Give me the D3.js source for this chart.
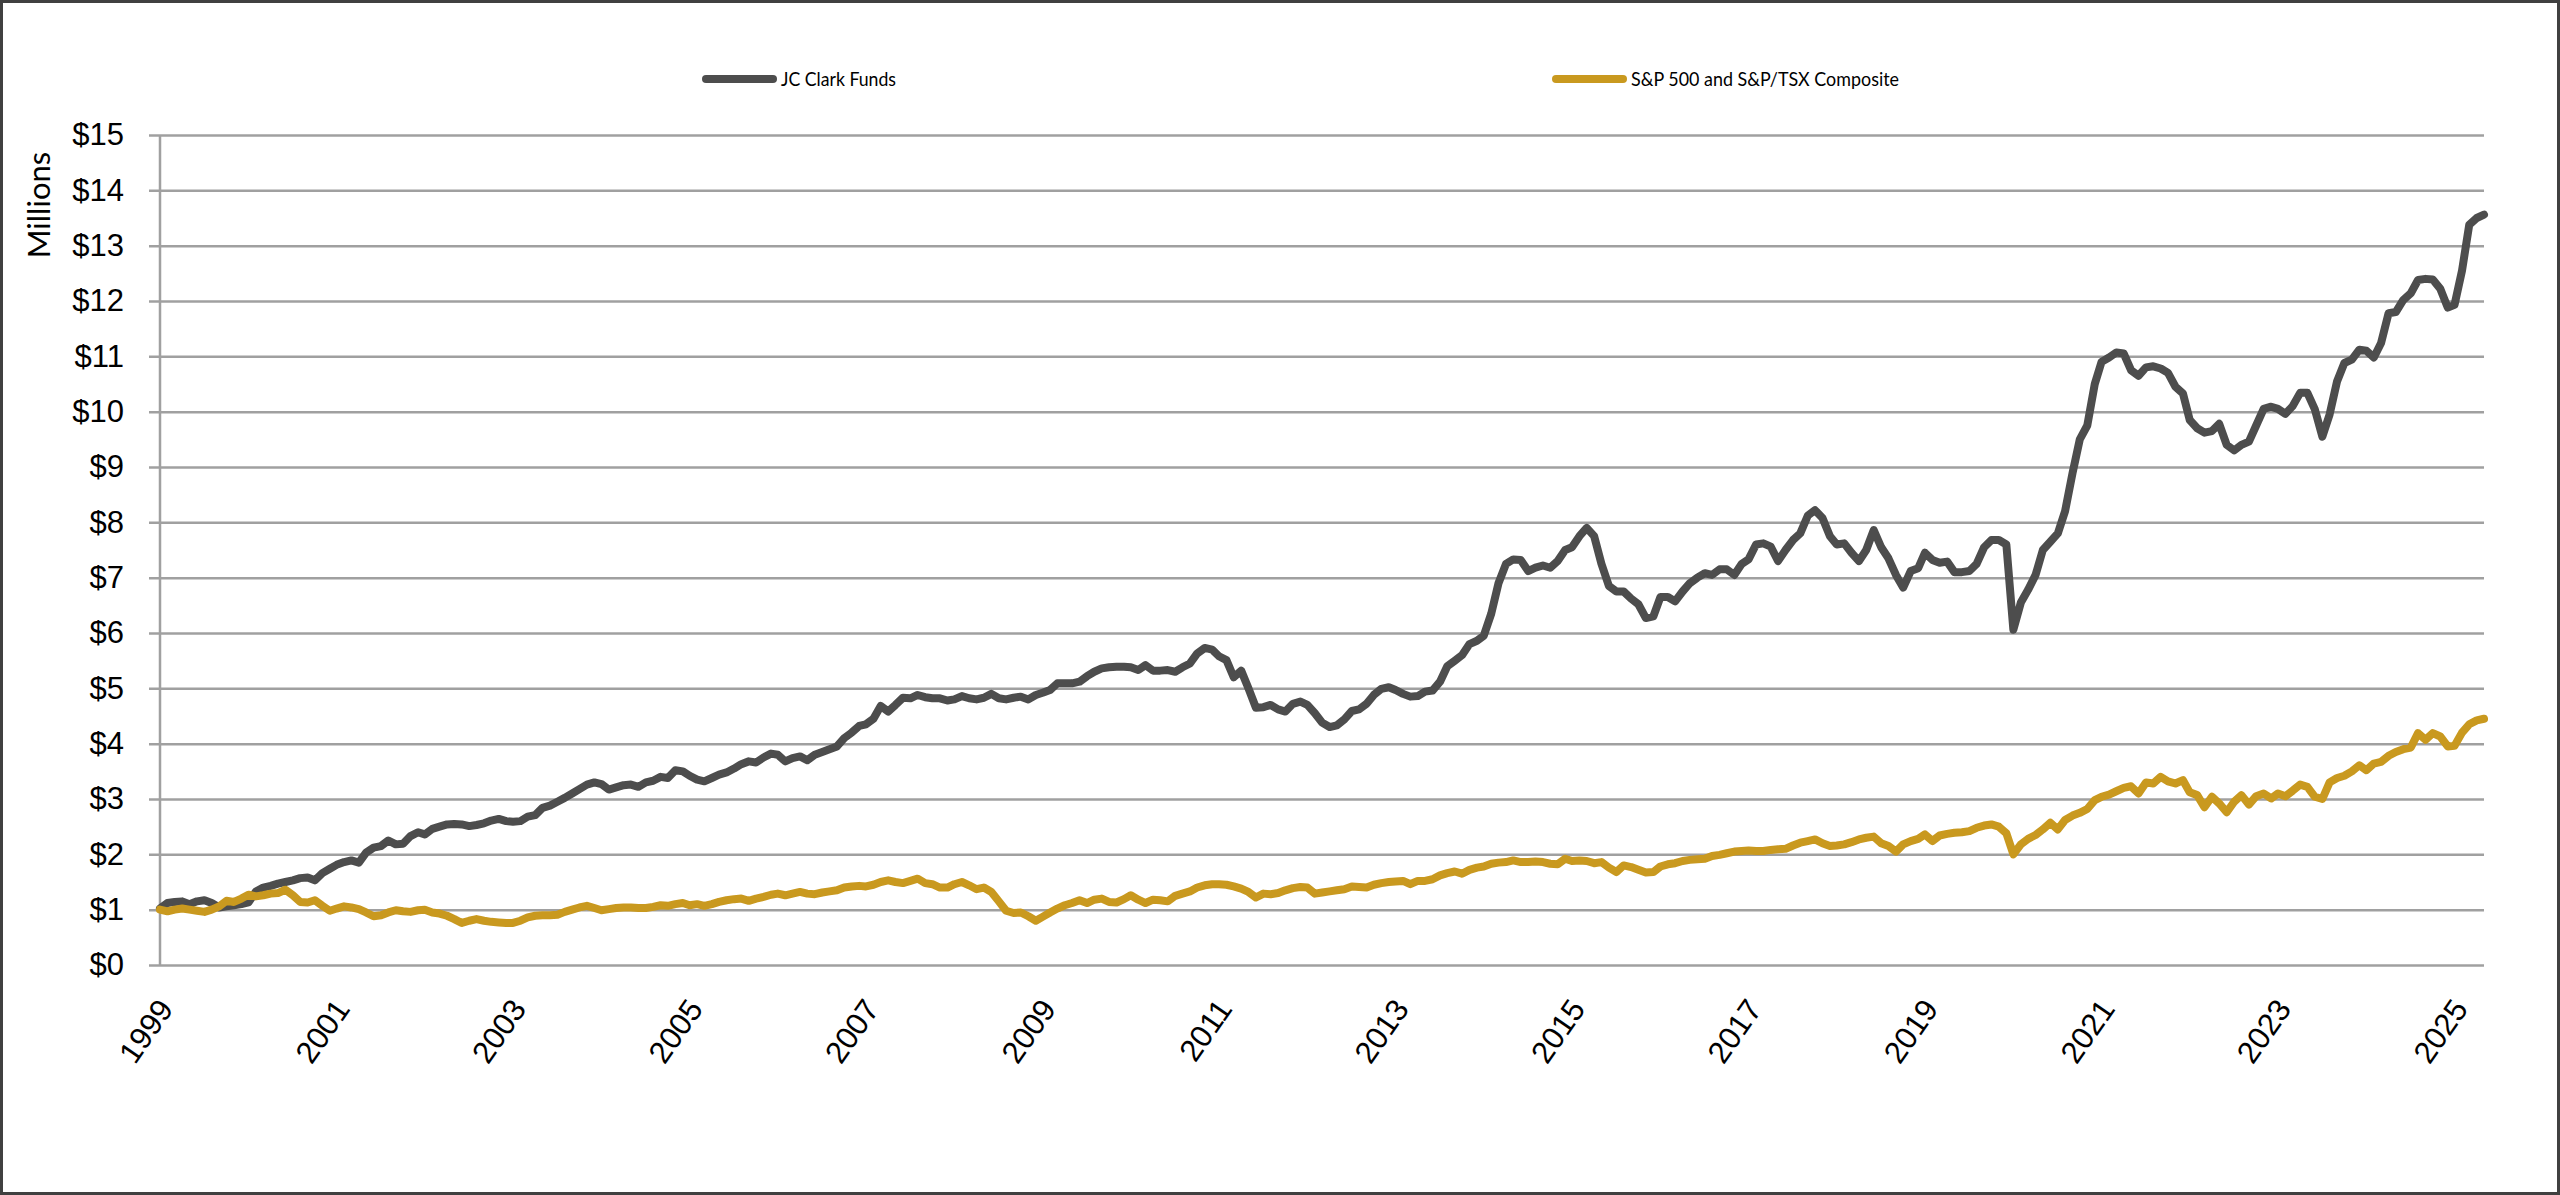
<!DOCTYPE html>
<html>
<head>
<meta charset="utf-8">
<script src="https://cdn.jsdelivr.net/npm/d3@7"></script>
<style>
  html, body { margin: 0; padding: 0; background: #fff; }
  svg { display: block; font-family: Lato, "Open Sans", sans-serif; }
  .grid line { stroke: #a0a0a0; stroke-width: 2.5; }
  .grid text, .x-axis text { fill: #000; font-size: 31px; }
  .line { fill: none; stroke-width: 8; stroke-linejoin: round; stroke-linecap: round; }
</style>
</head>
<body>
<div id="chart"></div>
<script>
// monthly values, first point March 1999
var startMonth = new Date(1999, 2, 1);

var jcClark = [
  1.02, 1.12, 1.14, 1.15, 1.10, 1.15, 1.17, 1.12, 1.04, 1.06, 1.08, 1.10,
  1.13, 1.33, 1.40, 1.43, 1.47, 1.50, 1.53, 1.57, 1.58, 1.53, 1.66, 1.74,
  1.81, 1.86, 1.89, 1.85, 2.03, 2.12, 2.15, 2.25, 2.18, 2.19, 2.33, 2.40,
  2.36, 2.46, 2.50, 2.54, 2.55, 2.54, 2.51, 2.53, 2.56, 2.61, 2.64, 2.60,
  2.59, 2.60, 2.68, 2.71, 2.84, 2.88, 2.95, 3.02, 3.10, 3.18, 3.26, 3.30,
  3.27, 3.17, 3.21, 3.25, 3.26, 3.22, 3.30, 3.33, 3.40, 3.38, 3.52, 3.50,
  3.42, 3.35, 3.32, 3.38, 3.44, 3.48, 3.55, 3.63, 3.68, 3.66, 3.75, 3.82,
  3.80, 3.68, 3.74, 3.77, 3.70, 3.80, 3.85, 3.90, 3.95, 4.10, 4.20, 4.32,
  4.35, 4.45, 4.68, 4.58, 4.70, 4.83, 4.82, 4.88, 4.84, 4.82, 4.82, 4.78,
  4.80, 4.86, 4.82, 4.80, 4.83, 4.90, 4.82, 4.80, 4.83, 4.85, 4.80, 4.88,
  4.92, 4.97, 5.09, 5.09, 5.09, 5.12, 5.22, 5.30, 5.36, 5.38, 5.39, 5.39,
  5.38, 5.33, 5.42, 5.32, 5.32, 5.33, 5.30, 5.38, 5.45, 5.63, 5.73, 5.70,
  5.58, 5.51, 5.20, 5.32, 5.00, 4.65, 4.66, 4.70, 4.62, 4.58, 4.72, 4.76,
  4.70, 4.55, 4.38, 4.30, 4.33, 4.44, 4.59, 4.62, 4.72, 4.88, 4.99, 5.02,
  4.97, 4.90, 4.85, 4.86, 4.94, 4.96, 5.12, 5.40, 5.50, 5.60, 5.80, 5.86,
  5.95, 6.35, 6.90, 7.25, 7.33, 7.32, 7.12, 7.18, 7.22, 7.18, 7.30, 7.50,
  7.55, 7.75, 7.90, 7.75, 7.25, 6.85, 6.75, 6.75, 6.62, 6.52, 6.27, 6.30,
  6.65, 6.65, 6.57, 6.75, 6.90, 7.00, 7.08, 7.05, 7.15, 7.15, 7.05, 7.25,
  7.33, 7.60, 7.62, 7.56, 7.30, 7.50, 7.68, 7.80, 8.12, 8.22, 8.08, 7.75,
  7.60, 7.62, 7.45, 7.30, 7.50, 7.86, 7.55, 7.35, 7.05, 6.82, 7.12, 7.17,
  7.45, 7.32, 7.27, 7.29, 7.10, 7.10, 7.12, 7.25, 7.55, 7.68, 7.68, 7.60,
  6.06, 6.55, 6.78, 7.05, 7.50, 7.65, 7.80, 8.20, 8.89, 9.50, 9.75, 10.50,
  10.90, 10.98, 11.07, 11.05, 10.75, 10.65, 10.80, 10.82, 10.78, 10.70, 10.45, 10.33,
  9.85, 9.70, 9.62, 9.65, 9.78, 9.40, 9.30, 9.40, 9.46, 9.75, 10.05, 10.09,
  10.05, 9.96, 10.10, 10.34, 10.34, 10.04, 9.55, 9.95, 10.55, 10.88, 10.94, 11.12,
  11.10, 10.98, 11.24, 11.78, 11.80, 12.02, 12.14, 12.38, 12.40, 12.39, 12.22, 11.88,
  11.93, 12.55, 13.38, 13.50, 13.56
];

var spTsx = [
  1.00, 0.97, 1.00, 1.02, 1.00, 0.98, 0.96, 1.00, 1.06, 1.16, 1.14, 1.20,
  1.27, 1.24, 1.26, 1.29, 1.30, 1.36, 1.26, 1.14, 1.13, 1.17, 1.07, 0.98,
  1.02, 1.06, 1.04, 1.01, 0.95, 0.88, 0.90, 0.95, 0.99, 0.97, 0.96, 0.99,
  1.00, 0.95, 0.93, 0.89, 0.83, 0.76, 0.80, 0.83, 0.80, 0.78, 0.77, 0.76,
  0.76, 0.80, 0.86, 0.89, 0.90, 0.90, 0.91, 0.96, 1.00, 1.04, 1.07, 1.03,
  0.99, 1.01, 1.03, 1.04, 1.04, 1.03, 1.03, 1.05, 1.08, 1.07, 1.10, 1.12,
  1.08, 1.10, 1.07, 1.10, 1.14, 1.17, 1.19, 1.20, 1.16, 1.20, 1.23, 1.27,
  1.29, 1.26, 1.29, 1.32, 1.29, 1.28, 1.31, 1.33, 1.35, 1.40, 1.42, 1.43,
  1.42, 1.45, 1.50, 1.53, 1.50, 1.48, 1.52, 1.56, 1.48, 1.46, 1.40, 1.40,
  1.46, 1.50, 1.44, 1.37, 1.40, 1.32, 1.15, 0.98, 0.94, 0.95, 0.88, 0.80,
  0.87, 0.95, 1.02, 1.08, 1.12, 1.17, 1.12, 1.18, 1.20, 1.14, 1.13, 1.19,
  1.26, 1.18, 1.12, 1.18, 1.17, 1.15, 1.25, 1.29, 1.33, 1.40, 1.44, 1.46,
  1.46, 1.45, 1.42, 1.38, 1.32, 1.22, 1.29, 1.28, 1.30, 1.35, 1.39, 1.41,
  1.40, 1.29, 1.31, 1.33, 1.35, 1.37, 1.42, 1.41, 1.40, 1.45, 1.48, 1.50,
  1.51, 1.52, 1.46, 1.52, 1.52, 1.55, 1.62, 1.66, 1.69, 1.65, 1.72, 1.76,
  1.78, 1.83, 1.85, 1.86, 1.89, 1.86, 1.86, 1.87, 1.86, 1.83, 1.82, 1.92,
  1.88, 1.89, 1.88, 1.84, 1.86, 1.76, 1.68, 1.80, 1.77, 1.72, 1.67, 1.68,
  1.78, 1.82, 1.84, 1.88, 1.90, 1.91, 1.92, 1.97, 1.99, 2.02, 2.05, 2.06,
  2.07, 2.06, 2.06, 2.08, 2.09, 2.10, 2.16, 2.21, 2.24, 2.27, 2.20, 2.15,
  2.16, 2.18, 2.22, 2.27, 2.30, 2.32, 2.20, 2.15, 2.05, 2.18, 2.24, 2.28,
  2.36, 2.24, 2.34, 2.37, 2.39, 2.40, 2.42, 2.48, 2.52, 2.54, 2.50, 2.38,
  2.00, 2.18, 2.28, 2.35, 2.45, 2.57, 2.45, 2.62, 2.70, 2.75, 2.82, 2.98,
  3.04, 3.08, 3.14, 3.20, 3.23, 3.10, 3.30, 3.28, 3.40, 3.32, 3.28, 3.34,
  3.12, 3.07, 2.85, 3.04, 2.92, 2.76, 2.95, 3.07, 2.90, 3.05, 3.10, 3.01,
  3.10, 3.05, 3.15, 3.26, 3.22, 3.04, 3.00, 3.30, 3.38, 3.42, 3.50, 3.61,
  3.52, 3.64, 3.67, 3.78, 3.85, 3.90, 3.93, 4.19, 4.07, 4.19, 4.13, 3.95,
  3.96, 4.20, 4.35, 4.42, 4.45
];

var seriesNames = ["JC Clark Funds", "S&P 500 and S&P/TSX Composite"];
var seriesColors = ["#4d4d4d", "#c9991f"];
var yTicks = [0, 1, 2, 3, 4, 5, 6, 7, 8, 9, 10, 11, 12, 13, 14, 15];
var labelEvery = 24; // one year label every 24 months

var W = 2560, H = 1195;
var plot = { left: 160, right: 2484, top: 135, bottom: 965 };

var dates = jcClark.map(function (d, i) { return d3.timeMonth.offset(startMonth, i); });

var svg = d3.select("#chart").append("svg")
    .attr("width", W)
    .attr("height", H);

svg.append("rect")
    .attr("x", 1.5).attr("y", 1.5)
    .attr("width", W - 3).attr("height", H - 3)
    .attr("fill", "#fff")
    .attr("stroke", "#404040")
    .attr("stroke-width", 3);

var xScale = d3.scaleTime()
    .domain([dates[0], dates[dates.length - 1]])
    .range([plot.left, plot.right]);

var yScale = d3.scaleLinear()
    .domain([0, 15])
    .range([plot.bottom, plot.top]);

// gridlines + y labels
var tickLen = 11;
svg.append("g")
    .attr("class", "grid")
    .attr("transform", "translate(" + (plot.left - tickLen) + ",0)")
    .call(d3.axisLeft(yScale)
        .tickValues(yTicks)
        .tickFormat(function (d) { return "$" + d; })
        .tickSize(-(plot.right - plot.left + tickLen))
        .tickPadding(25))
    .call(function (g) { g.select(".domain").remove(); });

svg.append("line")
    .attr("x1", plot.left).attr("x2", plot.left)
    .attr("y1", plot.top).attr("y2", plot.bottom)
    .attr("stroke", "#a0a0a0")
    .attr("stroke-width", 2.5);

// x axis labels
var xTicks = dates.filter(function (d, i) { return i % labelEvery === 0; });
var xAxis = svg.append("g")
    .attr("class", "x-axis")
    .attr("transform", "translate(0," + plot.bottom + ")")
    .call(d3.axisBottom(xScale)
        .tickValues(xTicks)
        .tickFormat(d3.timeFormat("%Y"))
        .tickSize(0));
xAxis.select(".domain").remove();
xAxis.selectAll("text")
    .attr("text-anchor", "end")
    .attr("dy", null)
    .attr("y", 0)
    .attr("transform", "translate(14,44) rotate(-55)");

svg.append("text")
    .attr("transform", "translate(50,205) rotate(-90)")
    .attr("text-anchor", "middle")
    .style("font-size", "31px")
    .text("Millions");

// lines
var line = d3.line()
    .x(function (d, i) { return xScale(dates[i]); })
    .y(function (d) { return yScale(d); });

[jcClark, spTsx].forEach(function (s, k) {
    svg.append("path")
        .datum(s)
        .attr("class", "line")
        .attr("stroke", seriesColors[k])
        .attr("d", line);
});

// legend
var legendItems = [
    { x: 703, textLen: 115 },
    { x: 1553, textLen: 268 }
];
var legend = svg.append("g").attr("class", "legend");
legendItems.forEach(function (l, k) {
    legend.append("line")
        .attr("x1", l.x + 3).attr("x2", l.x + 70)
        .attr("y1", 79).attr("y2", 79)
        .attr("stroke", seriesColors[k])
        .attr("stroke-width", 8)
        .attr("stroke-linecap", "round");
    legend.append("text")
        .attr("x", l.x + 78)
        .attr("y", 79)
        .attr("dy", "0.35em")
        .attr("textLength", l.textLen)
        .attr("lengthAdjust", "spacingAndGlyphs")
        .style("font-size", "19px")
        .text(seriesNames[k]);
});
</script>
</body>
</html>
